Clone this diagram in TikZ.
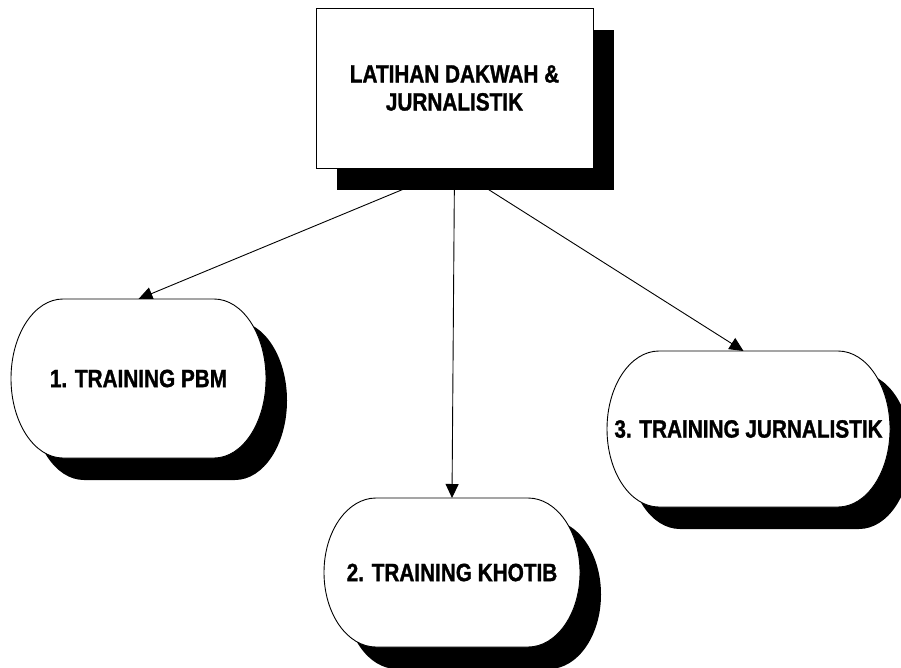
\documentclass[tikz,border=0pt]{standalone}
\usepackage{fontspec}
\newfontfamily\lblfont{Liberation Sans}[FakeStretch=0.83, BoldFeatures={FakeBold=1.2}]
\usetikzlibrary{arrows.meta}
\pgfdeclarelayer{background}
\pgfdeclarelayer{shapes}
\pgfsetlayers{background,shapes,main}
% #1 node, #2 rx, #3 ry, #4 dx, #5 dy, #6 style
\newcommand\pillpath[6]{%
  \path[#6] ([shift={(#2+#4,#5)}]#1.north west)
    -- ([shift={(-#2+#4,#5)}]#1.north east)
    arc[start angle=90,end angle=-90,x radius=#2,y radius=#3]
    -- ([shift={(#2+#4,#5)}]#1.south west)
    arc[start angle=270,end angle=90,x radius=#2,y radius=#3]
    -- cycle;}
\begin{document}
\begin{tikzpicture}[x=1pt,y=1pt,
  lbl/.style={font=\lblfont\bfseries\fontsize{25}{28}\selectfont, align=center, inner sep=0pt, outer sep=0pt},
  conn/.style={line width=0.9pt, -{Triangle[length=14pt,width=13pt]}},
  shadowfill/.style={fill=black},
  shapefill/.style={fill=white, draw=black, line width=0.9pt}]
\useasboundingbox (0,0) rectangle (901,-667);
\node[lbl, minimum width=277pt, minimum height=160pt] (top) at (454.5,-88) {LATIHAN DAKWAH \&\\JURNALISTIK};
\node[lbl, minimum width=255pt, minimum height=159pt] (pbm) at (138.5,-378.5) {1. TRAINING PBM};
\node[lbl, minimum width=256pt, minimum height=149pt] (khotib) at (452,-572.5) {2. TRAINING KHOTIB};
\node[lbl, minimum width=283pt, minimum height=156pt] (jurn) at (748.5,-429) {3. TRAINING JURNALISTIK};
\begin{pgfonlayer}{shapes}
  \fill[shadowfill] ([shift={(21,-22)}]top.north west) rectangle ([shift={(21,-22)}]top.south east);
  \path[shapefill] (top.north west) rectangle (top.south east);
  \pillpath{pbm}{52}{79.5}{21}{-22}{shadowfill}
  \pillpath{pbm}{52}{79.5}{0}{0}{shapefill}
  \pillpath{khotib}{52}{74.5}{21}{-22}{shadowfill}
  \pillpath{khotib}{52}{74.5}{0}{0}{shapefill}
  \pillpath{jurn}{52}{78}{21}{-22}{shadowfill}
  \pillpath{jurn}{52}{78}{0}{0}{shapefill}
\end{pgfonlayer}
\begin{pgfonlayer}{background}
  \draw[conn] (top.south) -- (pbm.north);
  \draw[conn] (top.south) -- (khotib.north);
  \draw[conn] (top.south) -- ([xshift=-5pt]jurn.north);
\end{pgfonlayer}
\end{tikzpicture}
\end{document}
